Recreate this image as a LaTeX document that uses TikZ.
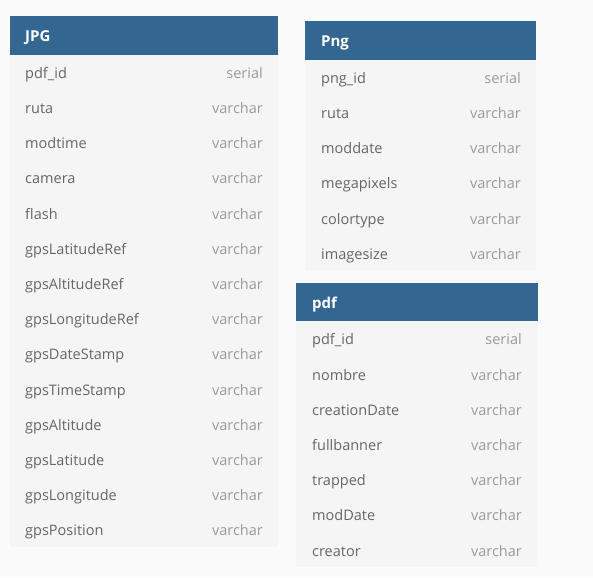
\documentclass[tikz,border=0pt]{standalone}
\usepackage{fontspec}
\setmainfont{Open Sans}
\definecolor{bgc}{HTML}{FAFAFA}
\definecolor{bodyc}{HTML}{F5F5F5}
\definecolor{headc}{HTML}{336791}
\definecolor{fieldc}{HTML}{666666}
\definecolor{typec}{HTML}{9A9A9A}
\tikzset{
  header/.style={fill=headc, draw=none, inner sep=0pt, anchor=north west},
  headtext/.style={text=white, font=\fontsize{15}{17}\selectfont\bfseries, anchor=base west, inner sep=0pt},
  body/.style={fill=bodyc, draw=none, inner sep=0pt, anchor=north west},
  field/.style={text=fieldc, font=\fontsize{14.5}{17}\selectfont, anchor=base west, inner sep=0pt},
  ftype/.style={text=typec, font=\fontsize{14.5}{17}\selectfont, anchor=base east, inner sep=0pt},
}
\begin{document}
\begin{tikzpicture}[x=1pt,y=-1pt]
\fill[bgc] (0,0) rectangle (593,577);
\useasboundingbox (0,0) rectangle (593,577);
% JPG table
\node[header, minimum width=268pt, minimum height=39pt] (jpgh) at (10,16) {};
\node[headtext] (jpgt) at (25,41.5) {JPG};
\node[body, minimum width=268pt, minimum height=492pt] (jpgb) at (10,55) {};
\foreach \n/\t [count=\i from 0] in {pdf\_id/serial,ruta/varchar,modtime/varchar,camera/varchar,flash/varchar,gpsLatitudeRef/varchar,gpsAltitudeRef/varchar,gpsLongitudeRef/varchar,gpsDateStamp/varchar,gpsTimeStamp/varchar,gpsAltitude/varchar,gpsLatitude/varchar,gpsLongitude/varchar,gpsPosition/varchar}{
  \node[field] (jpgf\i) at (25,78.3+35.2*\i) {\n};
  \node[ftype] (jpgy\i) at (263,78.3+35.2*\i) {\t};
}
% Png table
\node[header, minimum width=231pt, minimum height=39pt] (pngh) at (305,21) {};
\node[headtext] (pngt) at (321,47) {Png};
\node[body, minimum width=231pt, minimum height=210pt] (pngb) at (305,60) {};
\foreach \n/\t [count=\i from 0] in {png\_id/serial,ruta/varchar,moddate/varchar,megapixels/varchar,colortype/varchar,imagesize/varchar}{
  \node[field] (pngf\i) at (321,83.3+35.2*\i) {\n};
  \node[ftype] (pngy\i) at (521,83.3+35.2*\i) {\t};
}
% pdf table
\node[header, minimum width=242pt, minimum height=38pt] (pdfh) at (296,283) {};
\node[headtext] (pdft) at (312,308.3) {pdf};
\node[body, minimum width=242pt, minimum height=246pt] (pdfb) at (296,321) {};
\foreach \n/\t [count=\i from 0] in {pdf\_id/serial,nombre/varchar,creationDate/varchar,fullbanner/varchar,trapped/varchar,modDate/varchar,creator/varchar}{
  \node[field] (pdff\i) at (312,344.8+35.2*\i) {\n};
  \node[ftype] (pdfy\i) at (522,344.8+35.2*\i) {\t};
}
\end{tikzpicture}
\end{document}
